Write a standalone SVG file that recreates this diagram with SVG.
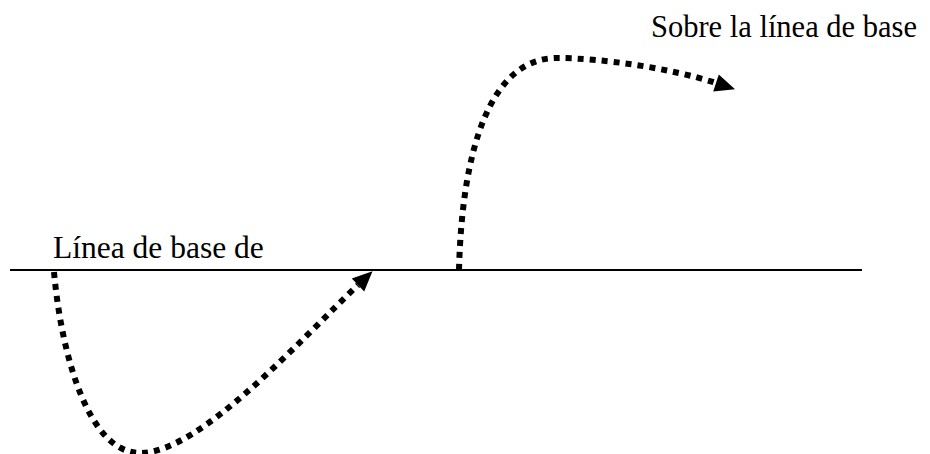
<svg xmlns="http://www.w3.org/2000/svg" width="930" height="454" viewBox="0 0 930 454">
  <style>
    .label { font-family: "Liberation Serif", "Times New Roman", serif; fill: #000; }
    .dotted { fill: none; stroke: #000; stroke-width: 6; stroke-dasharray: 6 6; }
    .base { stroke: #000; stroke-width: 2; fill: none; }
  </style>
  <defs>
    <marker id="arrow" markerUnits="userSpaceOnUse" markerWidth="21" markerHeight="19" refX="0" refY="9" orient="auto" overflow="visible">
      <path d="M0,0 L20,9 L0,18 z" fill="#000"/>
    </marker>
  </defs>
  <g id="baseline">
    <line class="base" x1="10" y1="270" x2="862" y2="270"/>
  </g>
  <g id="label-baseline">
    <text class="label" x="53" y="258" font-size="31.5">Línea de base de</text>
  </g>
  <g id="label-above">
    <text class="label" x="651" y="37" font-size="30.5">Sobre la línea de base</text>
  </g>
  <g id="connectors">
    <path id="curve-below" class="dotted" d="M54,272 C62,360 90,453 140,453 C200,453 300,340 358,285" marker-end="url(#arrow)"/>
    <path id="curve-above" class="dotted" d="M459,270 C462,150 490,58 557,58 C600,58 670,68 716,83" marker-end="url(#arrow)"/>
  </g>
</svg>
